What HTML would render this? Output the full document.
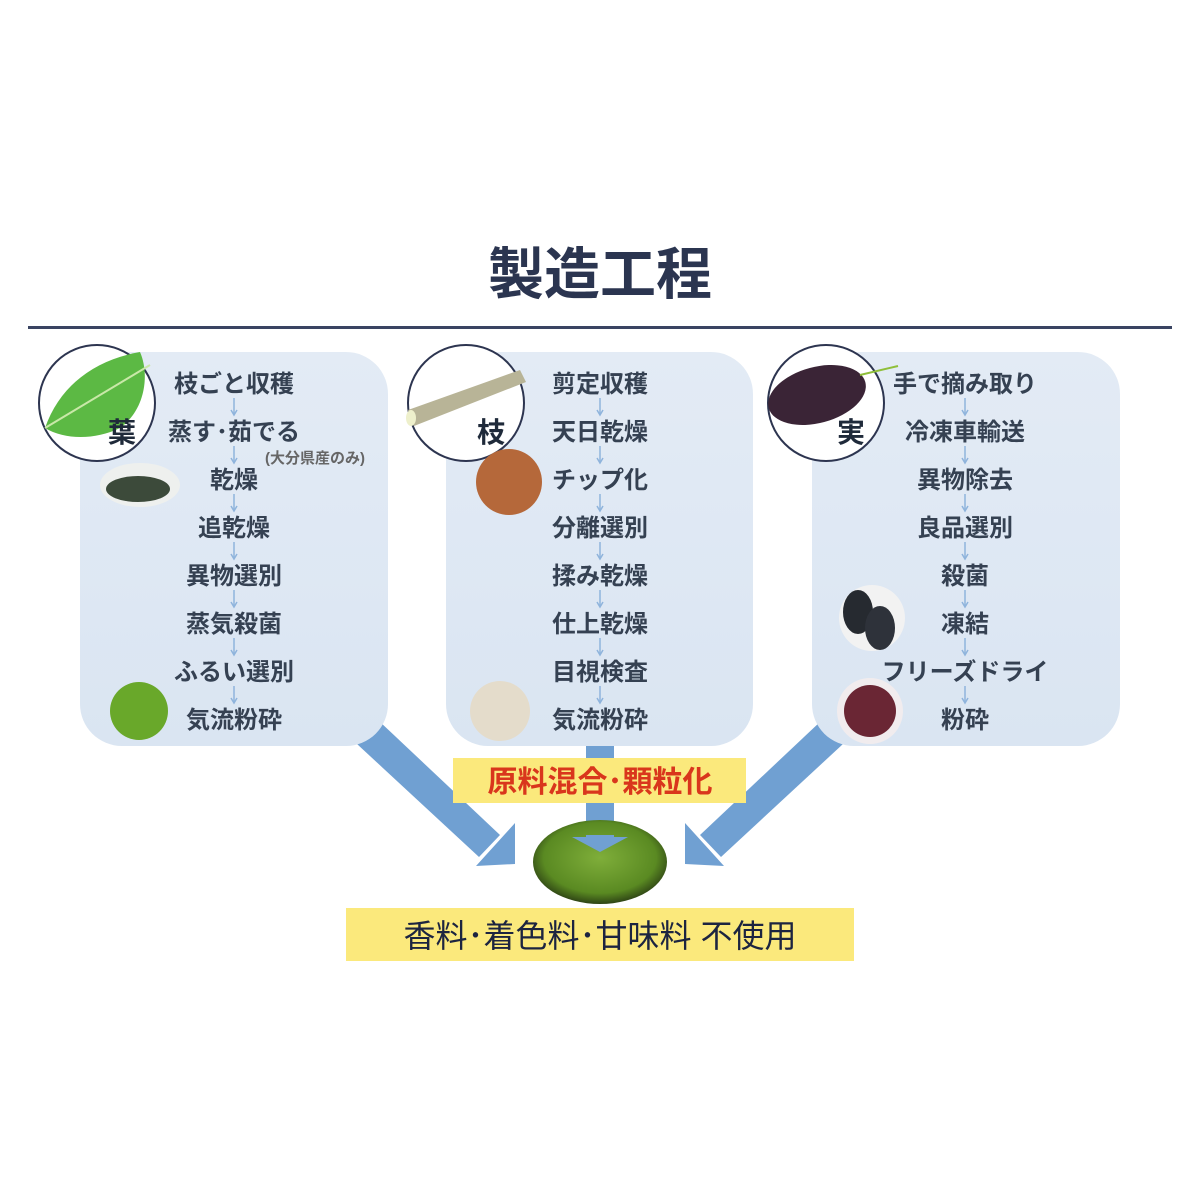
<!DOCTYPE html>
<html><head><meta charset="utf-8"><style>
html,body{margin:0;padding:0;background:#fff;}
svg{display:block;}
text{font-family:"Liberation Sans","Noto Sans CJK JP",sans-serif;}
</style></head><body>
<svg width="1200" height="1200" viewBox="0 0 1200 1200" xmlns="http://www.w3.org/2000/svg">
<defs>
<linearGradient id="pg" x1="0" y1="0" x2="0" y2="1">
<stop offset="0" stop-color="#e3ebf5"/><stop offset="1" stop-color="#dae5f2"/></linearGradient>
<radialGradient id="bowl" cx="0.5" cy="0.45" r="0.6">
<stop offset="0" stop-color="#7fae3a"/><stop offset="0.7" stop-color="#5a8a22"/><stop offset="1" stop-color="#1e2a10"/></radialGradient>
<g id="arr"><line x1="0" y1="-9" x2="0" y2="7" stroke="#8fb4dc" stroke-width="1.5"/><path d="M-3,3 L0,8 L3,3" fill="none" stroke="#8fb4dc" stroke-width="1.5"/></g>
</defs>
<text x="600" y="294" font-size="56" font-weight="bold" fill="#2b3550" text-anchor="middle">製造工程</text>
<rect x="28" y="326" width="1144" height="3" fill="#3a4462"/>

<g fill="#70a0d2">
<polygon points="357,744 379,721 500,835 479,857"/>
<polygon points="515,823 515,864 476,866"/>
<polygon points="843,744 821,721 700,835 721,857"/>
<polygon points="685,823 685,864 724,866"/>
<rect x="586" y="744" width="28" height="16"/>
<rect x="586" y="803" width="28" height="34"/>
</g>

<rect x="80" y="352" width="308" height="394" rx="42" fill="url(#pg)"/>
<rect x="446" y="352" width="307" height="394" rx="42" fill="url(#pg)"/>
<rect x="812" y="352" width="308" height="394" rx="42" fill="url(#pg)"/>

<g stroke="#2d3550" stroke-width="2" fill="#fff">
<circle cx="97" cy="403" r="58"/>
<circle cx="466" cy="403" r="58"/>
<circle cx="826" cy="403" r="58"/>
</g>
<path d="M45,428 C60,385 95,360 140,352 C150,375 145,410 120,428 C95,440 65,440 45,428 Z" fill="#5cb944"/>
<path d="M45,428 L150,365" stroke="#c9e8a8" stroke-width="2"/>
<polygon points="408,410 520,370 526,382 414,426" fill="#b8b497"/>
<ellipse cx="411" cy="418" rx="5" ry="8" fill="#eef0cc"/>
<ellipse cx="817" cy="395" rx="50" ry="28" fill="#3a2436" transform="rotate(-15 817 395)"/>
<path d="M860,375 L898,366" stroke="#8fbf3a" stroke-width="2"/>

<g font-size="28" font-weight="bold" fill="#1f2a3a">
<text x="122" y="442" text-anchor="middle">葉</text>
<text x="491" y="442" text-anchor="middle">枝</text>
<text x="851" y="442" text-anchor="middle">実</text>
</g>

<ellipse cx="140" cy="485" rx="40" ry="22" fill="#eef0ee"/>
<ellipse cx="138" cy="489" rx="32" ry="13" fill="#3c4a3a"/>
<circle cx="139" cy="711" r="29" fill="#69a82a"/>
<circle cx="509" cy="482" r="33" fill="#b5683a"/>
<circle cx="500" cy="711" r="30" fill="#e4dccb"/>
<circle cx="872" cy="618" r="33" fill="#f2f2f2"/>
<ellipse cx="858" cy="612" rx="15" ry="22" fill="#262a30"/>
<ellipse cx="880" cy="628" rx="15" ry="22" fill="#2e323a"/>
<circle cx="870" cy="711" r="33" fill="#f1ecee"/>
<circle cx="870" cy="711" r="26" fill="#6a2634"/>

<g font-size="24" font-weight="bold" fill="#354152" text-anchor="middle">
<text x="234" y="392">枝ごと収穫</text>
<text x="234" y="440">蒸す･茹でる</text>
<text x="234" y="488">乾燥</text>
<text x="234" y="536">追乾燥</text>
<text x="234" y="584">異物選別</text>
<text x="234" y="632">蒸気殺菌</text>
<text x="234" y="680">ふるい選別</text>
<text x="234" y="728">気流粉砕</text>
<text x="600" y="392">剪定収穫</text>
<text x="600" y="440">天日乾燥</text>
<text x="600" y="488">チップ化</text>
<text x="600" y="536">分離選別</text>
<text x="600" y="584">揉み乾燥</text>
<text x="600" y="632">仕上乾燥</text>
<text x="600" y="680">目視検査</text>
<text x="600" y="728">気流粉砕</text>
<text x="965" y="392">手で摘み取り</text>
<text x="965" y="440">冷凍車輸送</text>
<text x="965" y="488">異物除去</text>
<text x="965" y="536">良品選別</text>
<text x="965" y="584">殺菌</text>
<text x="965" y="632">凍結</text>
<text x="965" y="680">フリーズドライ</text>
<text x="965" y="728">粉砕</text>
</g>
<text x="315" y="463" font-size="15" font-weight="bold" fill="#666" text-anchor="middle">(大分県産のみ)</text>

<g>
<use href="#arr" x="234" y="407"/><use href="#arr" x="234" y="455"/><use href="#arr" x="234" y="503"/><use href="#arr" x="234" y="551"/><use href="#arr" x="234" y="599"/><use href="#arr" x="234" y="647"/><use href="#arr" x="234" y="695"/>
<use href="#arr" x="600" y="407"/><use href="#arr" x="600" y="455"/><use href="#arr" x="600" y="503"/><use href="#arr" x="600" y="551"/><use href="#arr" x="600" y="599"/><use href="#arr" x="600" y="647"/><use href="#arr" x="600" y="695"/>
<use href="#arr" x="965" y="407"/><use href="#arr" x="965" y="455"/><use href="#arr" x="965" y="503"/><use href="#arr" x="965" y="551"/><use href="#arr" x="965" y="599"/><use href="#arr" x="965" y="647"/><use href="#arr" x="965" y="695"/>
</g>

<rect x="453" y="758" width="293" height="45" fill="#fbe97c"/>
<text x="600" y="792" font-size="30" font-weight="bold" fill="#d9361c" text-anchor="middle">原料混合･顆粒化</text>

<ellipse cx="600" cy="862" rx="67" ry="42" fill="url(#bowl)"/>
<polygon points="586,835 614,835 614,837 628,837 600,852 572,837 586,837" fill="#70a0d2"/>

<rect x="346" y="908" width="508" height="53" fill="#fbe97c"/>
<text x="600" y="947" font-size="32" fill="#1c2440" text-anchor="middle">香料･着色料･甘味料 不使用</text>
</svg>
</body></html>
